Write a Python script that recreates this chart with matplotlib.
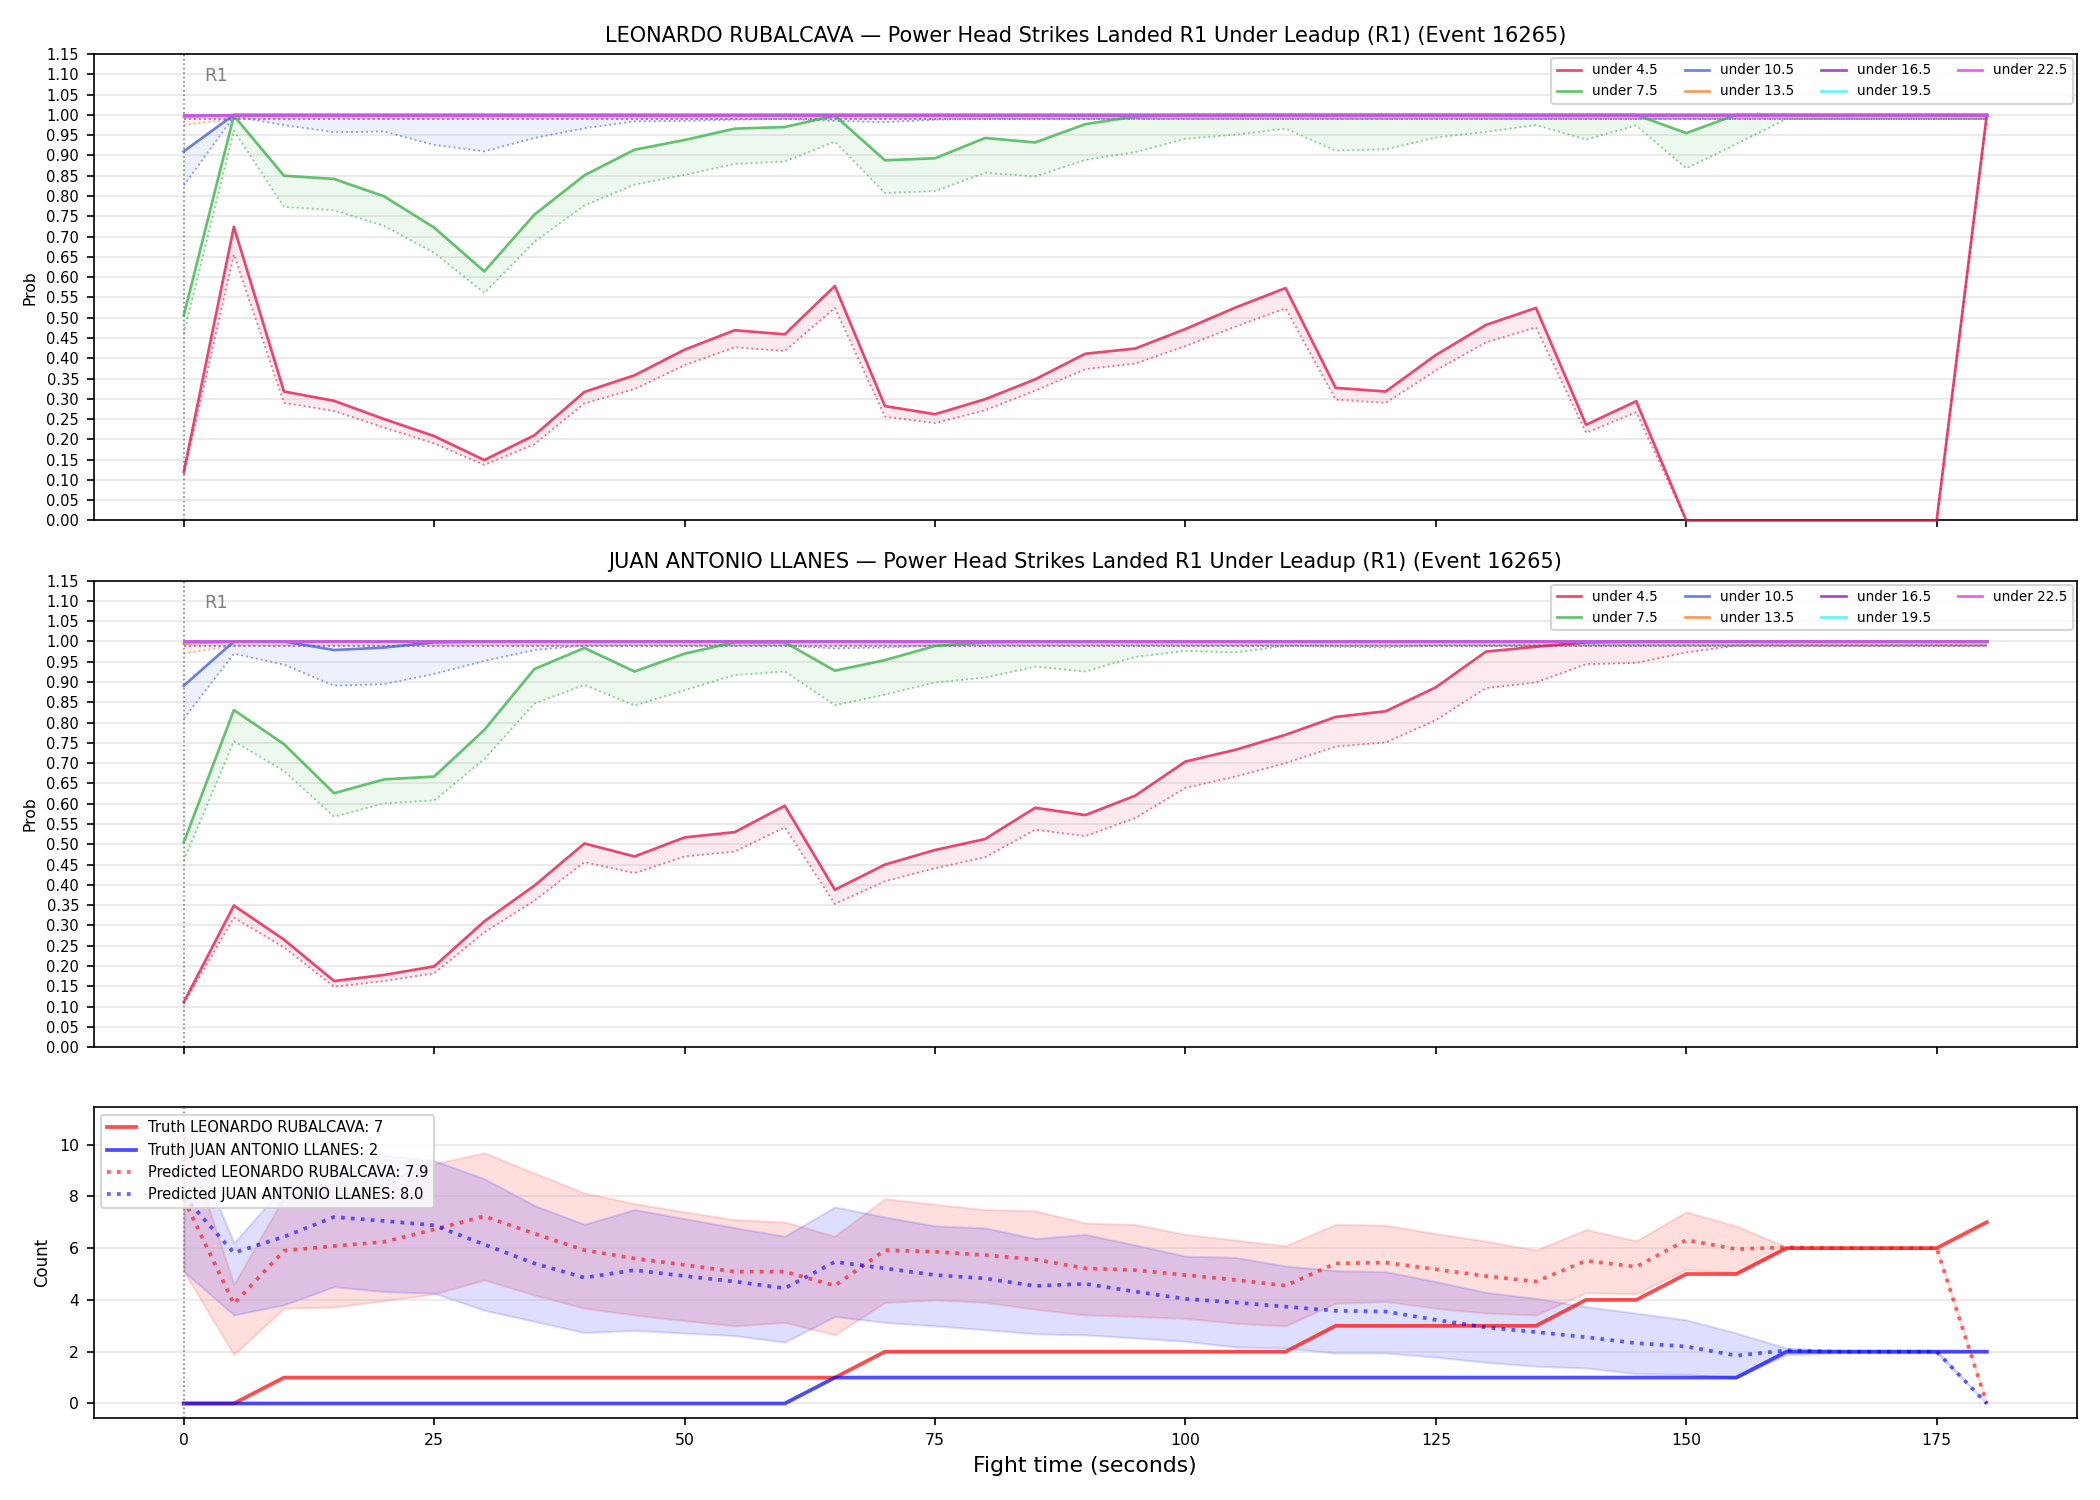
import matplotlib.pyplot as plt
import numpy as np

# time grid (seconds), one point every 5 s
t = np.arange(0, 181, 5)

lines_labels = ['under 4.5', 'under 7.5', 'under 10.5', 'under 13.5',
                'under 16.5', 'under 19.5', 'under 22.5']
line_colors = ['#e6194b', '#3cb44b', '#4363d8', '#f58231',
               '#911eb4', '#46f0f0', '#f032e6']

ONE = [1.0] * 37
P99 = [0.99] * 37

# ---- LEONARDO RUBALCAVA (top) ----
leo_u45 = [0.12, 0.724, 0.318, 0.295, 0.25, 0.208, 0.149, 0.21, 0.317, 0.358, 0.421, 0.469, 0.459,
           0.578, 0.282, 0.262, 0.299, 0.348, 0.411, 0.424, 0.472, 0.525, 0.573, 0.327, 0.318,
           0.408, 0.482, 0.524, 0.236, 0.294, 0.0, 0.0, 0.0, 0.0, 0.0, 0.0, 1.0]
leo_u45_d = [0.113, 0.656, 0.29, 0.27, 0.229, 0.19, 0.137, 0.188, 0.289, 0.324, 0.383, 0.427, 0.418,
             0.524, 0.256, 0.24, 0.272, 0.32, 0.373, 0.387, 0.43, 0.478, 0.523, 0.298, 0.29,
             0.37, 0.439, 0.476, 0.216, 0.267, 0.0, 0.0, 0.0, 0.0, 0.0, 0.0, 0.99]
leo_u75 = [0.506, 0.998, 0.85, 0.842, 0.799, 0.722, 0.614, 0.754, 0.851, 0.914, 0.938, 0.966, 0.97,
           0.998, 0.888, 0.893, 0.943, 0.932, 0.977, 0.996, 1.0, 1.0, 1.0, 1.0, 1.0,
           1.0, 1.0, 1.0, 1.0, 1.0, 0.955, 1.0, 1.0, 1.0, 1.0, 1.0, 1.0]
leo_u75_d = [0.461, 0.961, 0.773, 0.765, 0.726, 0.66, 0.561, 0.687, 0.777, 0.828, 0.852, 0.879, 0.885,
             0.934, 0.807, 0.812, 0.857, 0.848, 0.889, 0.908, 0.941, 0.951, 0.966, 0.912, 0.915,
             0.944, 0.958, 0.975, 0.939, 0.974, 0.868, 0.928, 0.99, 0.99, 0.99, 0.99, 0.99]
leo_u105 = [0.91] + [1.0] * 36
leo_u105_d = [0.826, 0.996, 0.975, 0.957, 0.959, 0.926, 0.91, 0.943, 0.967, 0.984, 0.985, 0.988, 0.99,
              0.985, 0.982, 0.988] + [0.99] * 21
leo_u135 = [0.995] + [1.0] * 36
leo_u135_d = [0.975] + [0.99] * 36

# ---- JUAN ANTONIO LLANES (middle) ----
juan_u45 = [0.111, 0.349, 0.265, 0.163, 0.178, 0.199, 0.31, 0.398, 0.502, 0.47, 0.517, 0.53, 0.595,
            0.388, 0.45, 0.486, 0.513, 0.59, 0.572, 0.62, 0.704, 0.733, 0.77, 0.814, 0.828,
            0.887, 0.975, 0.987, 0.998, 1.0, 1.0, 1.0, 1.0, 1.0, 1.0, 1.0, 1.0]
juan_u45_d = [0.107, 0.319, 0.246, 0.149, 0.163, 0.182, 0.283, 0.361, 0.456, 0.429, 0.47, 0.482, 0.542,
              0.353, 0.409, 0.441, 0.468, 0.536, 0.52, 0.565, 0.639, 0.667, 0.7, 0.741, 0.751,
              0.806, 0.885, 0.899, 0.944, 0.947, 0.973, 0.99, 0.99, 0.99, 0.99, 0.99, 0.99]
juan_u75 = [0.505, 0.831, 0.747, 0.626, 0.66, 0.667, 0.782, 0.932, 0.984, 0.926, 0.97, 0.998, 0.998,
            0.928, 0.954, 0.989, 0.998] + [1.0] * 20
juan_u75_d = [0.46, 0.754, 0.681, 0.568, 0.601, 0.608, 0.71, 0.847, 0.893, 0.842, 0.88, 0.917, 0.926,
              0.843, 0.869, 0.899, 0.911, 0.938, 0.926, 0.962, 0.977, 0.973, 0.989, 0.987, 0.985] + [0.99] * 12
juan_u105 = [0.891, 1.0, 1.0, 0.979, 0.985, 0.998] + [1.0] * 31
juan_u105_d = [0.81, 0.97, 0.943, 0.891, 0.895, 0.92, 0.952, 0.979, 0.99, 0.99, 0.99, 0.99, 0.99,
               0.983, 0.985] + [0.99] * 22
juan_u135 = [0.995] + [1.0] * 36
juan_u135_d = [0.97] + [0.99] * 36

# ---- counts (bottom) ----
truth_leo = [0, 0, 1, 1, 1, 1, 1, 1, 1, 1, 1, 1, 1, 1, 2, 2, 2, 2, 2, 2, 2, 2, 2,
             3, 3, 3, 3, 3, 4, 4, 5, 5, 6, 6, 6, 6, 7]
truth_juan = [0] * 13 + [1] * 19 + [2] * 5
pred_leo = [7.9, 3.85, 5.9, 6.08, 6.24, 6.72, 7.23, 6.56, 5.92, 5.6, 5.35, 5.09, 5.09, 4.55,
            5.92, 5.86, 5.73, 5.56, 5.22, 5.15, 4.96, 4.77, 4.55, 5.41, 5.44, 5.18, 4.92, 4.71,
            5.51, 5.28, 6.31, 5.96, 6.03, 6.0, 6.0, 6.0, 0.0]
pred_juan = [8.0, 5.82, 6.44, 7.2, 7.05, 6.88, 6.14, 5.41, 4.86, 5.15, 4.92, 4.71, 4.45, 5.47,
             5.22, 4.96, 4.83, 4.54, 4.62, 4.32, 4.04, 3.9, 3.74, 3.58, 3.55, 3.23, 2.94, 2.76,
             2.56, 2.33, 2.2, 1.85, 2.05, 2.0, 2.0, 2.0, 0.0]
leo_hi = [10.5, 4.6, 7.97, 8.5, 8.6, 9.26, 9.68, 8.9, 8.13, 7.72, 7.4, 7.1, 7.01, 6.46,
          7.91, 7.69, 7.49, 7.44, 6.97, 6.91, 6.53, 6.31, 6.09, 6.92, 6.88, 6.56, 6.27, 5.92,
          6.72, 6.28, 7.4, 6.85, 6.05, 6.0, 6.0, 6.0, 0.0]
leo_lo = [5.1, 1.88, 3.68, 3.72, 3.97, 4.23, 4.77, 4.19, 3.68, 3.42, 3.2, 3.0, 3.13, 2.65,
          3.9, 4.0, 3.91, 3.64, 3.42, 3.36, 3.29, 3.1, 3.0, 3.87, 3.94, 3.68, 3.49, 3.42,
          4.28, 4.23, 5.18, 5.05, 6.0, 6.0, 6.0, 6.0, 0.0]
juan_hi = [10.87, 6.2, 8.4, 9.77, 9.58, 9.38, 8.68, 7.65, 6.92, 7.49, 7.14, 6.79, 6.46, 7.59,
           7.2, 6.86, 6.78, 6.37, 6.53, 6.12, 5.69, 5.64, 5.31, 5.13, 5.09, 4.71, 4.29, 4.06,
           3.74, 3.49, 3.23, 2.72, 2.14, 2.05, 2.05, 2.05, 0.0]
juan_lo = [5.1, 3.42, 3.81, 4.51, 4.32, 4.26, 3.6, 3.17, 2.74, 2.82, 2.72, 2.62, 2.37, 3.36,
           3.13, 3.0, 2.85, 2.69, 2.65, 2.53, 2.4, 2.18, 2.14, 1.95, 1.95, 1.79, 1.59, 1.44,
           1.37, 1.15, 1.12, 0.99, 1.88, 1.95, 1.95, 1.95, 0.0]

panels = [
    ('LEONARDO RUBALCAVA', [(leo_u45, leo_u45_d), (leo_u75, leo_u75_d), (leo_u105, leo_u105_d),
                            (leo_u135, leo_u135_d), (ONE, P99), (ONE, P99), (ONE, P99)]),
    ('JUAN ANTONIO LLANES', [(juan_u45, juan_u45_d), (juan_u75, juan_u75_d), (juan_u105, juan_u105_d),
                             (juan_u135, juan_u135_d), (ONE, P99), (ONE, P99), (ONE, P99)]),
]

fig = plt.figure(figsize=(14, 10), dpi=150)
gs = fig.add_gridspec(3, 1, height_ratios=[3, 3, 2], left=0.0446, right=0.989,
                      top=0.964, bottom=0.0545, hspace=0.145)
axes = [fig.add_subplot(gs[0])]
axes.append(fig.add_subplot(gs[1], sharex=axes[0]))
axes.append(fig.add_subplot(gs[2], sharex=axes[0]))

for ax, (name, series) in zip(axes[:2], panels):
    for (solid, dotted), lab, col in zip(series, lines_labels, line_colors):
        ax.plot(t, solid, color=col, lw=1.3, alpha=0.8, label=lab, zorder=3, clip_on=False)
        ax.plot(t, dotted, color=col, lw=0.9, alpha=0.6, ls=':')
        ax.fill_between(t, solid, dotted, color=col, alpha=0.09, lw=0)
    ax.axvline(0, color='gray', ls=':', lw=0.8)
    ax.text(2, 1.095, 'R1', color='gray', fontsize=8.5, va='center')
    ax.set_ylim(0, 1.15)
    ax.set_yticks(np.arange(0, 1.151, 0.05))
    ax.tick_params(axis='y', labelsize=7)
    ax.tick_params(axis='x', labelbottom=False)
    ax.set_ylabel('Prob', fontsize=7.5)
    ax.grid(True, axis='y', alpha=0.3)
    ax.set_title(f'{name} \u2014 Power Head Strikes Landed R1 Under Leadup (R1) (Event 16265)',
                 fontsize=10)
    ax.legend(loc='upper right', ncol=4, fontsize=6.5, framealpha=0.8, handlelength=1.8,
              borderaxespad=0.3)

ax = axes[2]
ax.fill_between(t, leo_lo, leo_hi, color='red', alpha=0.13, lw=1)
ax.fill_between(t, juan_lo, juan_hi, color='blue', alpha=0.13, lw=1)
ax.plot(t, truth_leo, color='red', lw=1.8, alpha=0.7, label='Truth LEONARDO RUBALCAVA: 7')
ax.plot(t, truth_juan, color='blue', lw=1.8, alpha=0.7, label='Truth JUAN ANTONIO LLANES: 2')
ax.plot(t, pred_leo, color='red', lw=1.8, alpha=0.6, ls=':', label='Predicted LEONARDO RUBALCAVA: 7.9')
ax.plot(t, pred_juan, color='blue', lw=1.8, alpha=0.6, ls=':', label='Predicted JUAN ANTONIO LLANES: 8.0')
ax.axvline(0, color='gray', ls=':', lw=0.8)
ax.text(2, 10.6, 'R1', color='gray', fontsize=8.5, va='center', alpha=0.5)
ax.set_ylim(-0.57, 11.44)
ax.set_xlim(-9, 189)
ax.set_xticks(np.arange(0, 176, 25))
ax.tick_params(labelsize=7.5)
ax.set_ylabel('Count', fontsize=8)
ax.set_xlabel('Fight time (seconds)', fontsize=10.5)
ax.grid(True, axis='y', alpha=0.3)
ax.legend(loc='upper left', fontsize=7, framealpha=0.8)

fig.savefig('out.png', dpi=150)
